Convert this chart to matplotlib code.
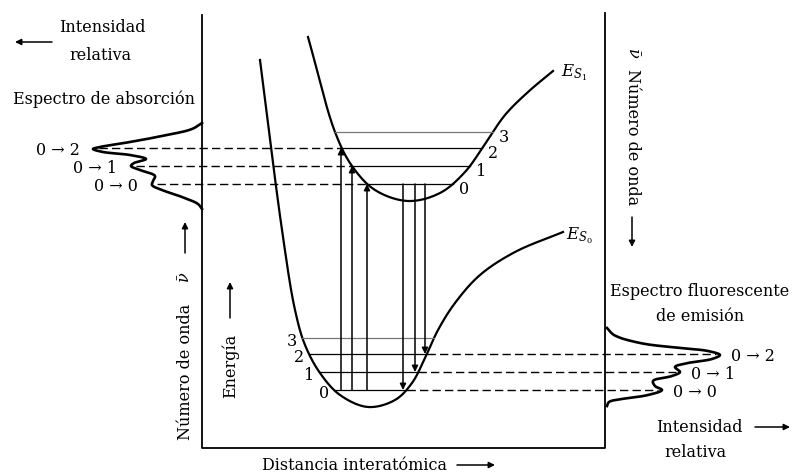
import numpy as np
import matplotlib
matplotlib.use('Agg')
import matplotlib.pyplot as plt

# everything is in picture pixels (792 x 473), y grows downwards

# potential energy curves, traced points
s1_x = [308, 335, 352, 375, 408, 440, 465, 485, 505, 528, 553]
s1_y = [37, 132, 166, 190, 201, 193, 172, 144, 115, 92, 71]
s0_x = [260, 282, 295, 305, 320, 340, 368, 395, 412, 425, 438, 455, 480, 515, 563]
s0_y = [60, 230, 310, 345, 373, 395, 407, 400, 383, 358, 330, 303, 275, 252, 232]

# vibrational levels v = 0..3
s1_levels = [184, 166, 148, 132]
s0_levels = [390, 372, 354, 338]

# vertical transitions (0->0, 0->1, 0->2)
abs_lines_x = [367, 352, 341]
emi_lines_x = [403, 415, 425]

# spectra, traced
abs_spec_x = [202, 192, 167, 130, 100, 93, 103, 130, 146, 134, 131, 140, 155, 153, 152, 162, 182, 198, 202]
abs_spec_y = [123, 129, 135, 142, 147, 149, 152, 155, 159, 163, 166, 170, 176, 181, 185, 190, 197, 204, 209]
abs_peaks_x = [151, 130, 93]
emi_spec_x = [607, 614, 640, 680, 708, 720, 712, 688, 675, 680, 672, 653, 655, 662, 648, 622, 609, 607]
emi_spec_y = [328, 335, 343, 348, 351, 355, 359, 363, 367, 372, 376, 381, 386, 390, 395, 399, 402, 406]
emi_peaks_x = [662, 680, 720]
trans_labels = ['0 → 0', '0 → 1', '0 → 2']

box_x = [202, 202, 605, 605]
box_y = [15, 448, 448, 13]


def smooth(x, y, n=20, alpha=0.5):
    # centripetal catmull-rom through the traced points
    P = np.column_stack([x, y]).astype(float)
    P = np.vstack([2 * P[0] - P[1], P, 2 * P[-1] - P[-2]])
    out = []
    for i in range(len(P) - 3):
        p0, p1, p2, p3 = P[i:i + 4]
        t1 = np.linalg.norm(p1 - p0) ** alpha
        t2 = t1 + np.linalg.norm(p2 - p1) ** alpha
        t3 = t2 + np.linalg.norm(p3 - p2) ** alpha
        t = np.linspace(t1, t2, n, endpoint=False)[:, None]
        a1 = (t1 - t) / t1 * p0 + t / t1 * p1
        a2 = (t2 - t) / (t2 - t1) * p1 + (t - t1) / (t2 - t1) * p2
        a3 = (t3 - t) / (t3 - t2) * p2 + (t - t2) / (t3 - t2) * p3
        b1 = (t2 - t) / t2 * a1 + t / t2 * a2
        b2 = (t3 - t) / (t3 - t1) * a2 + (t - t1) / (t3 - t1) * a3
        out.append((t2 - t) / (t2 - t1) * b1 + (t - t1) / (t2 - t1) * b2)
    out.append(P[-2:-1])
    s = np.vstack(out)
    return s[:, 0], s[:, 1]


def cross(cx, cy, level, side):
    i = np.argmax(cy)
    if side == 'left':
        return np.interp(level, cy[:i + 1], cx[:i + 1])
    return np.interp(level, cy[i:][::-1], cx[i:][::-1])


plt.rcParams['font.family'] = ['DejaVu Serif', 'DejaVu Sans']
plt.rcParams['mathtext.fontset'] = 'dejavuserif'
fs = 11.5

fig = plt.figure(figsize=(7.92, 4.73), dpi=100)
ax = fig.add_axes([0, 0, 1, 1])
ax.set_xlim(0, 792)
ax.set_ylim(473, 0)
ax.axis('off')

arr = dict(arrowstyle='-|>', color='k', lw=1.1, mutation_scale=9, shrinkA=0, shrinkB=0)

ax.plot(box_x, box_y, color='k', lw=1.3)

c1x, c1y = smooth(s1_x, s1_y)
c0x, c0y = smooth(s0_x, s0_y)
ax.plot(c1x, c1y, color='k', lw=1.6)
ax.plot(c0x, c0y, color='k', lw=1.6)
ax.text(561, 73, r'$E_{S_1}$', fontsize=12, ha='left', va='center')
ax.text(566, 236, r'$E_{S_0}$', fontsize=12, ha='left', va='center')

# levels + numbers
for v in range(4):
    col = '#777777' if v == 3 else 'k'
    y = s1_levels[v]
    xl, xr = cross(c1x, c1y, y, 'left'), cross(c1x, c1y, y, 'right')
    ax.plot([xl, xr], [y, y], color=col, lw=0.9)
    ax.text(xr + 6, y + 5, str(v), fontsize=fs, ha='left', va='center')
    y = s0_levels[v]
    xl, xr = cross(c0x, c0y, y, 'left'), cross(c0x, c0y, y, 'right')
    ax.plot([xl, xr], [y, y], color=col, lw=0.9)
    ax.text(xl - 5, y + 3, str(v), fontsize=fs, ha='right', va='center')

# absorption (up) and emission (down)
for k in range(3):
    ax.annotate('', xy=(abs_lines_x[k], s1_levels[k]), xytext=(abs_lines_x[k], s0_levels[0]), arrowprops=arr)
    ax.annotate('', xy=(emi_lines_x[k], s0_levels[k]), xytext=(emi_lines_x[k], s1_levels[0]), arrowprops=arr)

# spectra
ax.plot(*smooth(abs_spec_x, abs_spec_y, 12), color='k', lw=1.9)
ax.plot(*smooth(emi_spec_x, emi_spec_y, 12), color='k', lw=1.9)

for k in range(3):
    y = s1_levels[k]
    ax.plot([abs_peaks_x[k] + 6, cross(c1x, c1y, y, 'left')], [y, y], color='k', lw=1, ls=(0, (6, 3)))
    ax.text(abs_peaks_x[k] - 13, y + 2, trans_labels[k], fontsize=fs, ha='right', va='center')
    y = s0_levels[k]
    ax.plot([cross(c0x, c0y, y, 'right'), emi_peaks_x[k] - 4], [y, y], color='k', lw=1, ls=(0, (6, 3)))
    ax.text(emi_peaks_x[k] + 11, y + 2, trans_labels[k], fontsize=fs, ha='left', va='center')

# texts and axis arrows
ax.text(102, 28, 'Intensidad', fontsize=fs, ha='center', va='center')
ax.text(100, 55, 'relativa', fontsize=fs, ha='center', va='center')
ax.annotate('', xy=(15, 42), xytext=(52, 42), arrowprops=arr)
ax.text(104, 99, 'Espectro de absorción', fontsize=fs, ha='center', va='center')

ax.text(700, 291, 'Espectro fluorescente', fontsize=fs, ha='center', va='center')
ax.text(700, 316, 'de emisión', fontsize=fs, ha='center', va='center')
ax.text(699, 427, 'Intensidad', fontsize=fs, ha='center', va='center')
ax.text(695, 452, 'relativa', fontsize=fs, ha='center', va='center')
ax.annotate('', xy=(790, 427), xytext=(755, 427), arrowprops=arr)

ax.text(355, 465, 'Distancia interatómica', fontsize=fs, ha='center', va='center')
ax.annotate('', xy=(495, 465), xytext=(457, 465), arrowprops=arr)

ax.text(185, 372, 'Número de onda', fontsize=fs, rotation=90, ha='center', va='center')
ax.text(185, 277, r'$\bar{\nu}$', fontsize=fs, rotation=90, ha='center', va='center')
ax.annotate('', xy=(185, 222), xytext=(185, 253), arrowprops=arr)

ax.text(230, 366, 'Energía', fontsize=fs, rotation=90, ha='center', va='center')
ax.annotate('', xy=(230, 282), xytext=(230, 318), arrowprops=arr)

ax.text(632, 137, 'Número de onda', fontsize=fs, rotation=-90, ha='center', va='center')
ax.text(632, 53, r'$\bar{\nu}$', fontsize=fs, rotation=-90, ha='center', va='center')
ax.annotate('', xy=(632, 247), xytext=(632, 217), arrowprops=arr)

fig.savefig('out.png', dpi=100)
